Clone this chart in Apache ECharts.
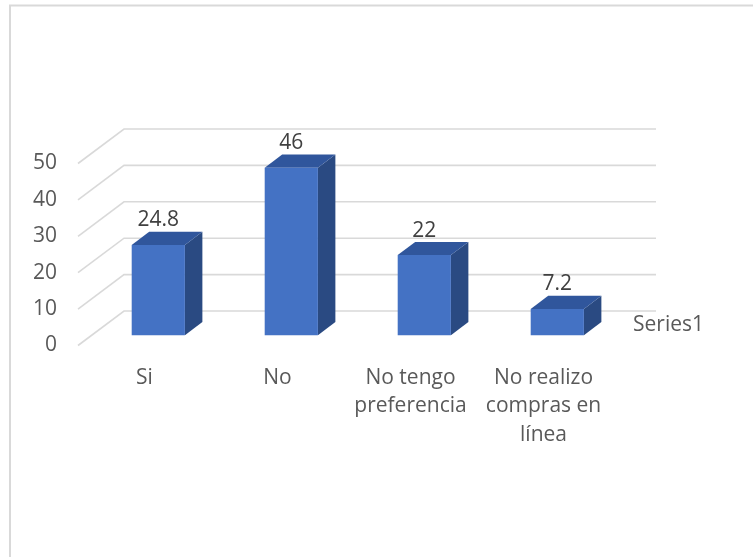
<!DOCTYPE html>
<html>
<head>
<meta charset="utf-8">
<style>
  html, body { margin: 0; padding: 0; background: #ffffff; }
  #chart { width: 753px; height: 557px; }
</style>
<script src="https://cdn.jsdelivr.net/npm/echarts@6/dist/echarts.min.js"></script>
</head>
<body>
<div id="chart"></div>
<script>
// Survey answers and their percentages
const categories = ['Si', 'No', 'No tengo\npreferencia', 'No realizo\ncompras en\nlínea'];
const values = [24.8, 46, 22, 7.2];
const yTicks = [0, 10, 20, 30, 40, 50];
const seriesName = 'Series1';

// Pseudo-3D look: depth vector of the floor and the bar's slice of that depth
const DEPTH = [46, -34.5];
const BAR_T0 = 0.3;
const BAR_T1 = 0.68;
const FONT = '"Open Sans", "Noto Sans", sans-serif';
const FONT_SIZE = 21;
const TEXT_COLOR = '#595959';

const chart = echarts.init(document.getElementById('chart'), null, { renderer: 'canvas' });

function renderGridLine(params, api) {
  const cs = params.coordSys;
  const y = api.coord([0, api.value(1)])[1];
  const x0 = cs.x, x1 = cs.x + cs.width;
  return {
    type: 'polyline',
    silent: true,
    shape: { points: [[x0, y], [x0 + DEPTH[0], y + DEPTH[1]], [x1 + DEPTH[0], y + DEPTH[1]]] },
    style: { stroke: '#d9d9d9', lineWidth: 1.6, fill: null }
  };
}

function renderBar(params, api) {
  const idx = api.value(0);
  const v = api.value(1);
  const top = api.coord([idx, v]);
  const base = api.coord([idx, 0]);
  const w = api.size([1, 0])[0] * 0.4;
  const ox = DEPTH[0] * BAR_T0, oy = DEPTH[1] * BAR_T0;
  const bx = DEPTH[0] * (BAR_T1 - BAR_T0), by = DEPTH[1] * (BAR_T1 - BAR_T0);
  const xl = top[0] - w / 2 + ox, xr = top[0] + w / 2 + ox;
  const yt = top[1] + oy, yb = base[1] + oy;
  return {
    type: 'group',
    children: [
      {
        type: 'polygon',
        shape: { points: [[xr, yt], [xr, yb], [xr + bx, yb + by], [xr + bx, yt + by]] },
        style: { fill: '#2a4a82' }
      },
      {
        type: 'polygon',
        shape: { points: [[xl, yt], [xr, yt], [xr + bx, yt + by], [xl + bx, yt + by]] },
        style: { fill: '#30569c' }
      },
      {
        type: 'rect',
        shape: { x: xl, y: yt, width: xr - xl, height: yb - yt },
        style: { fill: '#4472c4' }
      },
      {
        type: 'text',
        style: {
          text: String(v),
          x: top[0] + ox,
          y: yt - 24.5,
          align: 'center',
          verticalAlign: 'middle',
          fontSize: FONT_SIZE,
          fontFamily: FONT,
          fill: '#404040'
        }
      }
    ]
  };
}

const option = {
  animation: false,
  backgroundColor: '#ffffff',
  grid: { left: 78, top: 163.5, width: 532, height: 182, containLabel: false },
  xAxis: {
    type: 'category',
    data: categories,
    boundaryGap: true,
    axisLine: { show: false },
    axisTick: { show: false },
    splitLine: { show: false },
    axisLabel: {
      interval: 0,
      margin: 18,
      fontSize: FONT_SIZE,
      lineHeight: 28.5,
      fontFamily: FONT,
      color: TEXT_COLOR,
      align: 'center'
    }
  },
  yAxis: {
    type: 'value',
    min: 0,
    max: 50,
    interval: 10,
    axisLine: { show: false },
    axisTick: { show: false },
    splitLine: { show: false },
    axisLabel: { margin: 21, fontSize: FONT_SIZE, fontFamily: FONT, color: TEXT_COLOR }
  },
  graphic: [
    {
      type: 'rect',
      silent: true,
      shape: { x: 10, y: 5.5, width: 800, height: 600 },
      style: { fill: null, stroke: '#d9d9d9', lineWidth: 2 }
    },
    {
      type: 'text',
      left: 633,
      top: 315,
      style: { text: seriesName, fontSize: FONT_SIZE, fontFamily: FONT, fill: TEXT_COLOR }
    }
  ],
  series: [
    {
      type: 'custom',
      name: 'gridlines',
      silent: true,
      z: 1,
      renderItem: renderGridLine,
      data: yTicks.map(t => [0, t])
    },
    {
      type: 'custom',
      name: seriesName,
      z: 2,
      renderItem: renderBar,
      data: values.map((v, i) => [i, v])
    }
  ]
};

chart.setOption(option);
</script>
</body>
</html>
